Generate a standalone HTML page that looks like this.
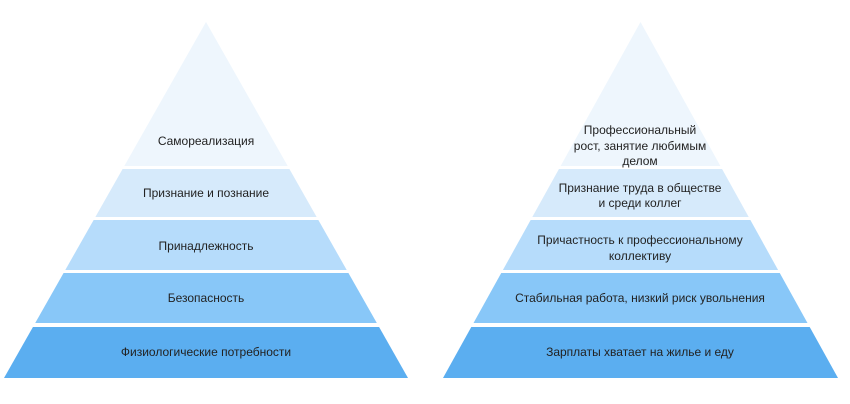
<!DOCTYPE html>
<html><head><meta charset="utf-8"><style>
html,body{margin:0;padding:0;background:#fff;}
svg{display:block;}
text{font-family:"Liberation Sans",sans-serif;font-size:12px;fill:#222;text-anchor:middle;}
</style></head><body>
<svg width="850" height="404" viewBox="0 0 850 404">
<defs>
<clipPath id="cl"><polygon points="206,22 408,378 4,378"/></clipPath>
<clipPath id="cr"><polygon points="640.5,22 838,378 443,378"/></clipPath>
<g id="bands">
<rect x="0" y="0" width="850" height="166" fill="#eef6fd"/>
<rect x="0" y="169" width="850" height="48" fill="#d6eafb"/>
<rect x="0" y="220" width="850" height="50" fill="#b6dcfb"/>
<rect x="0" y="273" width="850" height="50" fill="#88c7f8"/>
<rect x="0" y="327" width="850" height="51" fill="#5baef0"/>
</g>
</defs>
<g clip-path="url(#cl)"><use href="#bands"/></g>
<g clip-path="url(#cr)"><use href="#bands"/></g>
<text x="206" y="145">Самореализация</text>
<text x="206" y="197">Признание и познание</text>
<text x="206" y="250">Принадлежность</text>
<text x="206" y="302">Безопасность</text>
<text x="206" y="356">Физиологические потребности</text>
<text x="640" y="134">Профессиональный</text>
<text x="640" y="150">рост, занятие любимым</text>
<text x="640" y="165">делом</text>
<text x="640" y="192">Признание труда в обществе</text>
<text x="640" y="207">и среди коллег</text>
<text x="640" y="244">Причастность к профессиональному</text>
<text x="640" y="260">коллективу</text>
<text x="640" y="302">Стабильная работа, низкий риск увольнения</text>
<text x="640" y="356">Зарплаты хватает на жилье и еду</text>
</svg>
</body></html>
